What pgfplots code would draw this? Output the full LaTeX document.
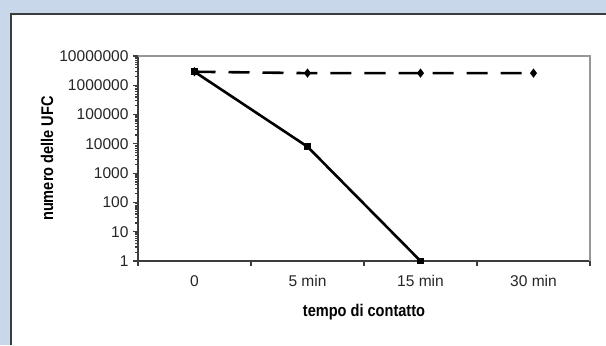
\documentclass[border=0pt]{standalone}
\usepackage{pgfplots}
\pgfplotsset{compat=1.18}
\usepackage{fontspec}
\setmainfont{Liberation Sans}
\newfontfamily\narrowfont[FakeStretch=0.86]{Liberation Sans}
\definecolor{bgblue}{RGB}{200,215,233}
\definecolor{axdark}{RGB}{60,60,60}
\definecolor{axlight}{RGB}{150,150,150}
\begin{document}
\begin{tikzpicture}[x=1bp,y=1bp]
\path[use as bounding box] (0,0) rectangle (606,345);
\fill[bgblue] (0,0) rectangle (606,345);
\fill[white] (11,0) rectangle (606,331);
\draw[axdark, line width=1.2bp] (11,0) -- (11,331) -- (606,331);
\begin{axis}[
  at={(138bp,84bp)}, anchor=south west,
  scale only axis, width=452bp, height=205bp,
  ymode=log, ymin=1, ymax=1e7,
  xmin=-0.5, xmax=3.5,
  xtick={-0.5,0.5,1.5,2.5,3.5},
  xticklabels={0,5 min,15 min,30 min},
  x tick label as interval,
  ytick={1,10,100,1000,10000,100000,1000000,10000000},
  yticklabels={1,10,100,1000,10000,100000,1000000,10000000},
  minor ytick={},
  axis x line*=bottom, axis y line*=left,
  axis line style={axdark, line width=1.4bp, -},
  tick align=outside,
  major tick length=5bp,
  tick style={axdark, line width=1.2bp},
  ticklabel style={font=\fontsize{15.6}{18}\selectfont, text=black!85},
  xticklabel style={yshift=-6bp},
  yticklabel style={xshift=-1bp},
  every axis x label/.style={at={(rel axis cs:0.5,0)}, yshift=-51bp, anchor=center},
  every axis y label/.style={at={(rel axis cs:0,0.5)}, xshift=-91bp, rotate=90, anchor=center},
  xlabel={\narrowfont\fontsize{17}{19}\selectfont\bfseries tempo di contatto},
  ylabel={\narrowfont\fontsize{17}{19}\selectfont\bfseries numero delle UFC},
  clip=false,
]
\draw[axlight, line width=1.2bp] (rel axis cs:0,1) -- (rel axis cs:1,1) -- (rel axis cs:1,0);
\addplot[black, line width=2.6bp, dash pattern=on 21bp off 13bp, mark=diamond*, mark size=2.5bp, mark options={solid}]
  coordinates {(0,2900000) (1,2600000) (2,2600000) (3,2600000)};
\addplot[black, line width=2.6bp, mark=square*, mark size=2bp]
  coordinates {(0,2900000) (1,8000) (2,1)};
\end{axis}
\end{tikzpicture}
\end{document}
